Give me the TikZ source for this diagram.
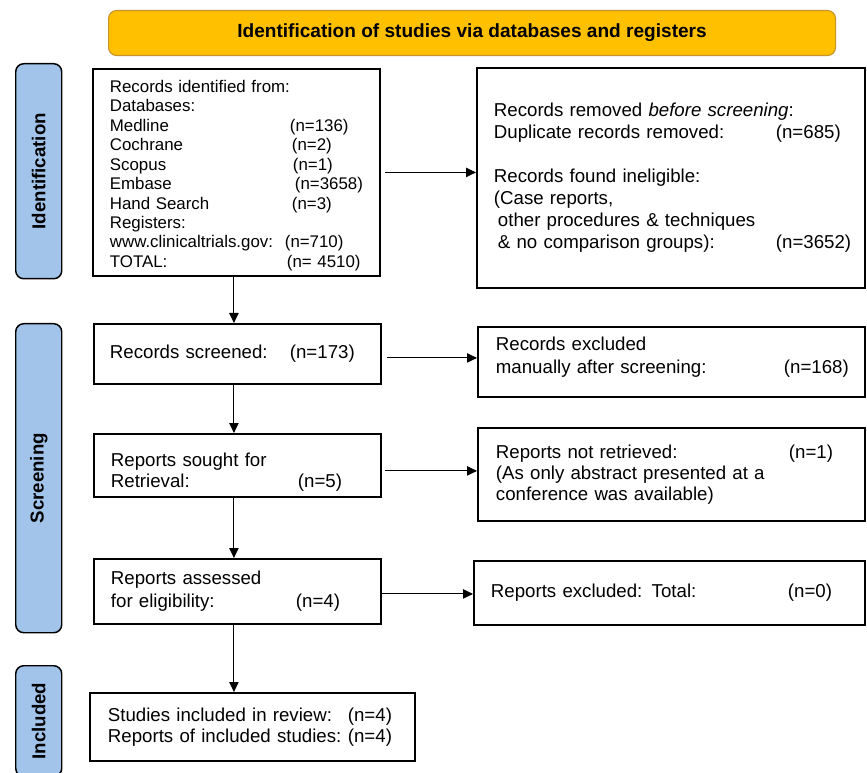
\documentclass[tikz,border=0pt]{standalone}
\usepackage{fontspec}
\setmainfont{Liberation Sans}
\usetikzlibrary{arrows.meta}
\definecolor{hdrfill}{HTML}{FFC000}
\definecolor{hdrline}{HTML}{C8922A}
\definecolor{sidefill}{HTML}{A2C4EA}
\newcommand{\rw}[3]{\makebox[#1][l]{#2}#3}
\begin{document}
\begin{tikzpicture}[x=0.75pt,y=-0.75pt,
  fA/.style={font=\fontsize{12.65}{14.6}\selectfont},
  box/.style={draw, line width=1.4pt, anchor=north west, inner ysep=2pt, align=left,
     font=\fontsize{14}{15.75}\selectfont},
  sidelabel/.style={draw, line width=1.1pt, fill=sidefill, rounded corners=6pt, anchor=north west,
     minimum width=34.5pt, font=\fontsize{14}{16}\selectfont\bfseries},
  conn/.style={line width=0.8pt, -{Triangle[length=7.5pt,width=7pt]}}]
\useasboundingbox (0,0) rectangle (867,773);
\clip (0,0) rectangle (867,773);
\fill[white] (0,0) rectangle (867,773);

% header
\node[draw=hdrline, line width=0.8pt, fill=hdrfill, rounded corners=6pt, anchor=north west,
  minimum width=545.25pt, minimum height=33.75pt, font=\fontsize{14.3}{16}\selectfont\bfseries]
  (hdr) at (108,10) {Identification of studies via databases and registers};

% side labels
\node[sidelabel, minimum height=161.25pt] (sid) at (15,63) {\rotatebox{90}{Identification}};
\node[sidelabel, minimum height=231.75pt] (sscr) at (15,323) {\rotatebox{90}{Screening}};
\node[sidelabel, minimum height=83pt] (sinc) at (15,665) {\rotatebox{90}{Included}};

% left column
\node[box, fA, minimum width=215.25pt, minimum height=155.25pt, inner xsep=12.75pt, text width=189.75pt]
  (b1) at (92,68) {\rule{0pt}{13.7pt}Records identified from:\\
  Databases:\\
  \rw{135pt}{Medline}{(n=136)}\\
  \rw{136.5pt}{Cochrane}{(n=2)}\\
  \rw{137.25pt}{Scopus}{(n=1)}\\
  \rw{138.75pt}{Embase}{(n=3658)}\\
  \rw{136.5pt}{Hand Search}{(n=3)}\\
  Registers:\\
  \rw{131.25pt}{www.clinicaltrials.gov:}{(n=710)}\\
  \rw{132.75pt}{TOTAL:}{(n= 4510)}};

\node[box, minimum width=215.25pt, minimum height=45pt, inner xsep=12pt, text width=191.25pt]
  (b2) at (93,323) {\rw{135pt}{Records screened:}{(n=173)}};

\node[box, minimum width=215.25pt, minimum height=47.25pt, inner xsep=12.75pt, text width=189.75pt]
  (b3) at (93,433) {\rule{0pt}{20.5pt}Reports sought for\\\rw{140.25pt}{Retrieval:}{(n=5)}};

\node[box, minimum width=215.25pt, minimum height=48.75pt, inner xsep=12.75pt, text width=189.75pt,
  font=\fontsize{14}{17.25}\selectfont]
  (b4) at (93,558) {Reports assessed\\\rw{138.75pt}{for eligibility:}{(n=4)}};

\node[box, minimum width=243.75pt, minimum height=51pt, inner xsep=13.5pt, text width=216.75pt]
  (b5) at (89,692) {\rw{180pt}{Studies included in review:}{(n=4)}\\
  \rw{180pt}{Reports of included studies:}{(n=4)}};

% right column
\node[box, minimum width=291pt, minimum height=165pt, inner xsep=12.75pt, text width=265.5pt,
  font=\fontsize{14}{16.5}\selectfont]
  (r1) at (476,67) {Records removed \textit{before screening}:\\
  \rw{211.5pt}{Duplicate records removed:}{(n=685)}\\[16.5pt]
  Records found ineligible:\\
  (Case reports,\\
  \hspace*{3pt}other procedures \& techniques\\
  \rw{211.5pt}{\hspace*{3pt}\& no comparison groups):}{(n=3652)}};

\node[box, minimum width=290.25pt, minimum height=52.5pt, inner xsep=13.5pt, text width=263.25pt,
  font=\fontsize{14}{17.25}\selectfont]
  (r2) at (477,326) {Records excluded\\\rw{216pt}{manually after screening:}{(n=168)}\rule[-9.8pt]{0pt}{1pt}};

\node[box, minimum width=290.25pt, minimum height=69.75pt, inner xsep=13.5pt, text width=263.25pt]
  (r3) at (477,427) {\rw{219.75pt}{Reports not retrieved:}{(n=1)}\\
  (As only abstract presented at a\\conference was available)};

\node[box, minimum width=293.25pt, minimum height=48pt, inner xsep=12.75pt, text width=267.75pt]
  (r4) at (473,560) {\rw{222.75pt}{Reports excluded: Total:}{(n=0)}};

% connectors
\draw[conn] (b1.east) ++(4,0) coordinate (c1) -- (c1 -| r1.west);
\draw[conn] (b2.east) ++(5,4) coordinate (c2) -- (c2 -| r2.west);
\draw[conn] (b3.east) ++(3,5.5) coordinate (c3) -- (c3 -| r3.west);
\draw[conn] (b4.east) ++(0,2.5) coordinate (c4) -- (c4 -| r4.west);
\draw[conn] (b1.south) ++(-2.5,0) coordinate (d1) -- (d1 |- b2.north);
\draw[conn] (d1 |- b2.south) -- (d1 |- b3.north);
\draw[conn] (d1 |- b3.south) -- (d1 |- b4.north);
\draw[conn] (d1 |- b4.south) -- (d1 |- b5.north);
\end{tikzpicture}
\end{document}
